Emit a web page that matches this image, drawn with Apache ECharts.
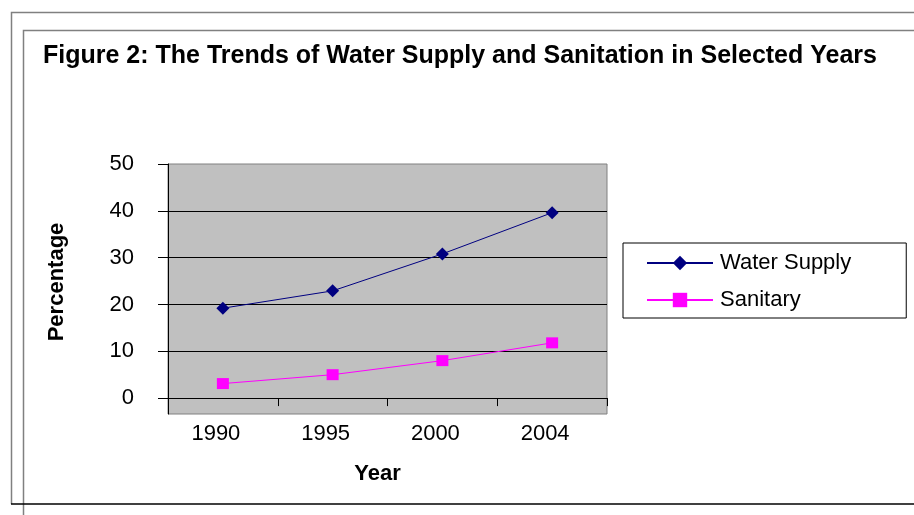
<!DOCTYPE html>
<html>
<head>
<meta charset="utf-8">
<script src="https://cdn.jsdelivr.net/npm/echarts@6/dist/echarts.min.js"></script>
<style>
  html, body { margin: 0; padding: 0; background: #ffffff; }
  #chart { width: 914px; height: 515px; }
</style>
</head>
<body>
<div id="chart"></div>
<script>
// Survey years and coverage (%) for each service
const years = ['1990', '1995', '2000', '2004'];
const waterSupply = [19.2, 22.9, 30.8, 39.6];
const sanitary = [3.1, 5.0, 8.0, 11.8];
const yTickValues = [0, 10, 20, 30, 40, 50];

const FONT = 'Arial, "Liberation Sans", sans-serif';
const chart = echarts.init(document.getElementById('chart'), null, { renderer: 'canvas' });

chart.setOption({
  backgroundColor: '#ffffff',
  animation: false,
  title: {
    text: 'Figure 2: The Trends of Water Supply and Sanitation in Selected Years',
    left: 43,
    top: 44,
    padding: 0,
    textStyle: { fontFamily: FONT, fontSize: 25, fontWeight: 'bold', color: '#000000' }
  },
  // frame lines around the figure
  graphic: [
    { type: 'polyline', silent: true, z: -1,
      shape: { points: [[11.5, 504], [11.5, 12.5], [914, 12.5]] },
      style: { stroke: '#808080', lineWidth: 1.5, fill: null } },
    { type: 'polyline', silent: true, z: -1,
      shape: { points: [[23.5, 515], [23.5, 30.5], [914, 30.5]] },
      style: { stroke: '#808080', lineWidth: 1.5, fill: null } },
    { type: 'line', silent: true, z: -1,
      shape: { x1: 11, y1: 504, x2: 914, y2: 504 },
      style: { stroke: '#000000', lineWidth: 1.5 } }
  ],
  legend: {
    orient: 'vertical',
    left: 623,
    top: 243,
    padding: [9, 55, 7, 23],
    itemWidth: 66,
    itemHeight: 18,
    itemGap: 15,
    borderColor: '#000000',
    borderWidth: 1,
    backgroundColor: '#ffffff',
    textStyle: { fontFamily: FONT, fontSize: 22, color: '#000000', padding: [0, 0, 0, 2] },
    data: ['Water Supply', 'Sanitary']
  },
  grid: {
    left: 168,
    top: 164,
    width: 439,
    height: 250,
    show: true,
    backgroundColor: '#c0c0c0',
    borderColor: '#808080',
    borderWidth: 1,
    containLabel: false
  },
  xAxis: {
    type: 'category',
    data: years,
    boundaryGap: true,
    name: 'Year',
    nameLocation: 'middle',
    nameGap: 49,
    nameTextStyle: { fontFamily: FONT, fontSize: 22, fontWeight: 'bold', color: '#000000', padding: [0, 20, 0, 0] },
    axisLine: { onZero: true, lineStyle: { color: '#000000', width: 1 } },
    axisTick: { show: true, length: 8, lineStyle: { color: '#000000' } },
    axisLabel: { fontFamily: FONT, fontSize: 22, color: '#000000', margin: 9, padding: [0, 14, 0, 0] },
    splitLine: { show: false }
  },
  yAxis: {
    type: 'value',
    min: -3.4,
    max: 50,
    name: 'Percentage',
    nameLocation: 'middle',
    nameRotate: 90,
    nameGap: 100,
    nameTextStyle: { fontFamily: FONT, fontSize: 22, fontWeight: 'bold', color: '#000000', padding: [0, 0, 0, 14] },
    axisLine: { show: true, onZero: false, lineStyle: { color: '#000000', width: 1 } },
    axisTick: { show: true, length: 10, customValues: yTickValues, lineStyle: { color: '#000000' } },
    axisLabel: {
      fontFamily: FONT, fontSize: 22, color: '#000000', margin: 34,
      padding: [5, 0, 0, 0],
      customValues: yTickValues,
      formatter: v => (v < 0 ? '' : String(v))
    },
    splitLine: { show: true, showMinLine: false, showMaxLine: false, lineStyle: { color: '#000000', width: 1 } }
  },
  series: [
    {
      name: 'Water Supply',
      type: 'line',
      data: waterSupply,
      symbol: 'diamond',
      symbolSize: 13,
      color: '#000080',
      lineStyle: { color: '#000080', width: 1 },
      itemStyle: { color: '#000080' }
    },
    {
      name: 'Sanitary',
      type: 'line',
      data: sanitary,
      symbol: 'rect',
      symbolSize: [12, 11],
      color: '#ff00ff',
      lineStyle: { color: '#ff00ff', width: 1 },
      itemStyle: { color: '#ff00ff' }
    }
  ]
});
</script>
</body>
</html>
